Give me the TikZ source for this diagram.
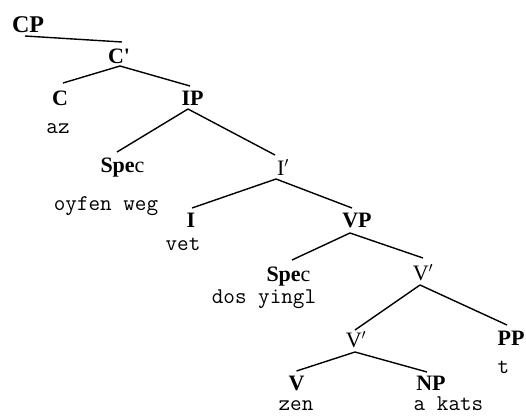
\documentclass[tikz,border=0pt]{standalone}
\usepackage{fontspec}
\setmainfont{Liberation Serif}
\begin{document}
\begin{tikzpicture}[x=1pt,y=-1pt,
  lab/.style={anchor=base,inner sep=0pt,font=\fontsize{22}{22}\selectfont\bfseries},
  labr/.style={anchor=base,inner sep=0pt,font=\fontsize{22}{22}\selectfont},
  wrd/.style={anchor=base,inner sep=0pt,font=\fontsize{22.5}{22.5}\selectfont\ttfamily},
  edge/.style={line width=1.4pt}]
\useasboundingbox (0,0) rectangle (526,418);
% labels
\node[lab,font=\fontsize{24}{24}\selectfont\bfseries] (CP) at (28,32) {CP};
\node[lab] (Cb) at (119,63) {C\textquotesingle};
\node[lab] (C) at (60,105) {C};
\node[wrd] (az) at (58,133) {az};
\node[lab] (IP) at (192.5,105) {IP};
\node[lab] (Spec1) at (122.5,172) {Spe\mdseries c};
\node[wrd] (w1) at (106,210) {oyfen weg};
\node[labr] (Ib) at (283,175) {I$'$};
\node[lab] (I) at (191,227) {I};
\node[wrd] (vet) at (183,250) {vet};
\node[lab] (VP) at (357,227) {VP};
\node[lab] (Spec2) at (288.5,281) {Spe\mdseries c};
\node[wrd] (w2) at (264,303) {dos yingl};
\node[labr] (Vb1) at (423,280) {V$'$};
\node[labr] (Vb2) at (356,347) {V$'$};
\node[lab] (PP) at (511,345) {PP};
\node[wrd] (t) at (503.5,373) {t};
\node[lab] (V) at (296.5,390) {V};
\node[wrd] (zen) at (296,410) {zen};
\node[lab] (NP) at (431,390) {NP};
\node[wrd] (ak) at (448.5,410) {a kats};
% edges
\draw[edge] ([shift={(-3,4)}]CP.base) -- ([shift={(3,-21)}]Cb.base);
\draw[edge] ([shift={(1,3)}]Cb.base) -- ([shift={(3,-22)}]C.base);
\draw[edge] ([shift={(1,3)}]Cb.base) -- ([shift={(-2.5,-19)}]IP.base);
\draw[edge] ([shift={(-4.5,4)}]IP.base) -- ([shift={(-5.5,-20)}]Spec1.base);
\draw[edge] ([shift={(-4.5,4)}]IP.base) -- ([shift={(-8,-20)}]Ib.base);
\draw[edge] ([shift={(-7,4)}]Ib.base) -- ([shift={(1,-19)}]I.base);
\draw[edge] ([shift={(-7,4)}]Ib.base) -- ([shift={(-5,-19)}]VP.base);
\draw[edge] ([shift={(-7,6)}]VP.base) -- ([shift={(3.5,-21)}]Spec2.base);
\draw[edge] ([shift={(-7,6)}]VP.base) -- ([shift={(0,-22)}]Vb1.base);
\draw[edge] ([shift={(-3,5)}]Vb1.base) -- ([shift={(-1,-17)}]Vb2.base);
\draw[edge] ([shift={(-3,5)}]Vb1.base) -- ([shift={(-4,-20)}]PP.base);
\draw[edge] ([shift={(-1,5)}]Vb2.base) -- ([shift={(0,-19)}]V.base);
\draw[edge] ([shift={(-1,5)}]Vb2.base) -- ([shift={(-4,-18)}]NP.base);
\end{tikzpicture}
\end{document}
